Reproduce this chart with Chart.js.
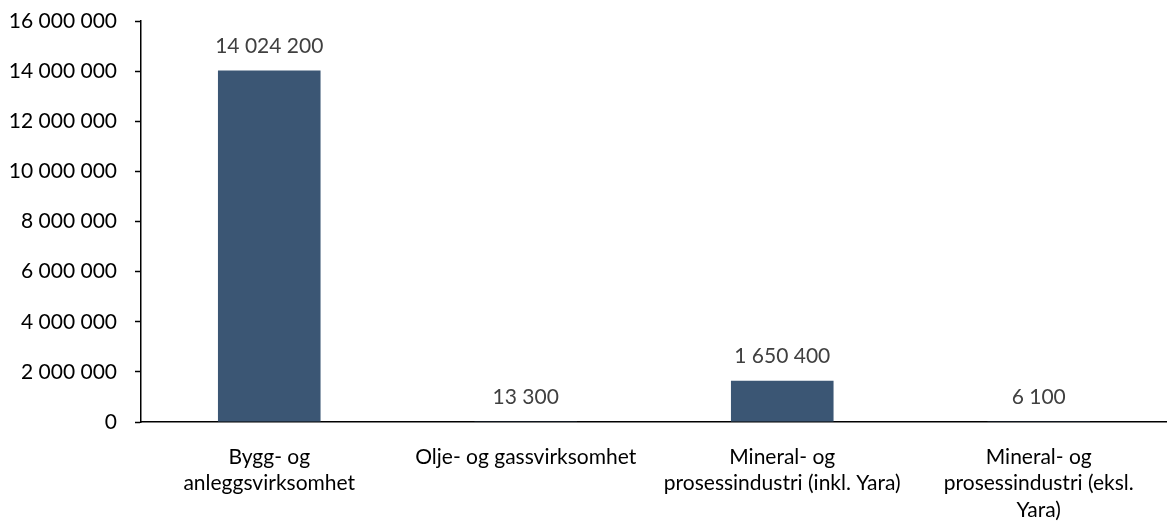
<!DOCTYPE html>
<html>
<head>
<meta charset="utf-8">
<script src="https://cdn.jsdelivr.net/npm/chart.js@4"></script>
<style>
  body { margin: 0; background: #fff; }
  canvas { display: block; }
</style>
</head>
<body>
<canvas id="emissionsChart" width="1167" height="523"></canvas>
<script>
// Categories (wrapped the same way as the original)
const categories = [
    ['Bygg- og', 'anleggsvirksomhet'],
    ['Olje- og gassvirksomhet'],
    ['Mineral- og', 'prosessindustri (inkl. Yara)'],
    ['Mineral- og', 'prosessindustri (eksl.', 'Yara)']
];
const values = [14024200, 13300, 1650400, 6100];
const yTicks = [0, 2000000, 4000000, 6000000, 8000000, 10000000, 12000000, 14000000, 16000000];

const FONT = 'Lato';
const FONT_SIZE = 21;

// 14024200 -> "14 024 200"
function formatNumber(v) {
    return String(v).replace(/\B(?=(\d{3})+(?!\d))/g, ' ');
}

// Draws the value above each bar
const valueLabels = {
    id: 'valueLabels',
    afterDatasetsDraw(chart) {
        const ctx = chart.ctx;
        const meta = chart.getDatasetMeta(0);
        ctx.save();
        ctx.font = FONT_SIZE + 'px ' + FONT;
        ctx.fillStyle = '#404040';
        ctx.textAlign = 'center';
        ctx.textBaseline = 'alphabetic';
        meta.data.forEach((bar, i) => {
            ctx.fillText(formatNumber(values[i]), bar.x, bar.y - 18);
        });
        ctx.restore();
    }
};

const ctx = document.getElementById('emissionsChart').getContext('2d');

new Chart(ctx, {
    type: 'bar',
    data: {
        labels: categories,
        datasets: [{
            data: values,
            backgroundColor: '#3b5674',
            borderWidth: 0,
            categoryPercentage: 1,
            barPercentage: 0.4
        }]
    },
    options: {
        responsive: false,
        animation: false,
        layout: {
            padding: { top: 21, right: 0, bottom: 0, left: 0 }
        },
        plugins: {
            legend: { display: false },
            tooltip: { enabled: false }
        },
        scales: {
            x: {
                grid: { display: true, drawOnChartArea: false, drawTicks: false },
                border: { color: '#000', width: 1.5 },
                ticks: {
                    color: '#000',
                    padding: 22,
                    maxRotation: 0,
                    font: { family: FONT, size: FONT_SIZE, lineHeight: 1.26 }
                },
                afterFit(scale) { scale.height = 101; }
            },
            y: {
                min: 0,
                max: 16000000,
                afterBuildTicks(scale) {
                    scale.ticks = yTicks.map(v => ({ value: v }));
                },
                grid: { display: true, drawOnChartArea: false, color: '#000', tickLength: 6, tickWidth: 1.5 },
                border: { color: '#000', width: 1.5 },
                ticks: {
                    color: '#000',
                    padding: 18,
                    font: { family: FONT, size: FONT_SIZE },
                    callback: (v) => formatNumber(v)
                },
                afterFit(scale) {
                    scale.width = 141;
                    // tick padding would otherwise push the plot top down
                    scale.paddingTop = 0;
                }
            }
        }
    },
    plugins: [valueLabels]
});
</script>
</body>
</html>
